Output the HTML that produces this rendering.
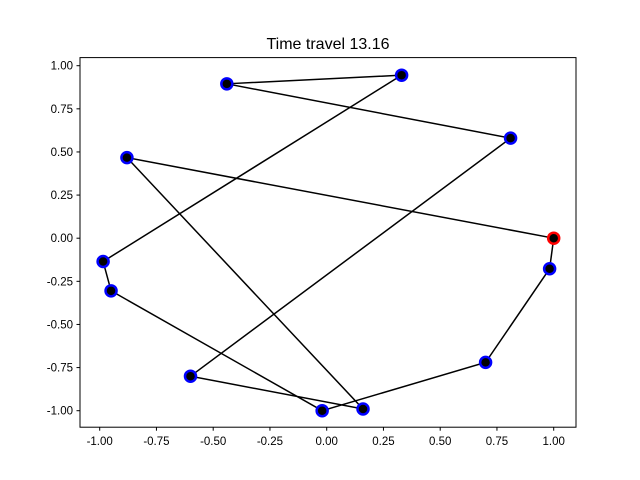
<!DOCTYPE html>
<html><head><meta charset="utf-8"><style>
body{margin:0;background:#fff;}
svg{display:block;font-family:"Liberation Sans","DejaVu Sans",sans-serif;}
</style></head><body>
<svg id="chart" width="640" height="480" viewBox="0 0 640 480">
<rect width="640" height="480" fill="#fff"/>
<text x="328" y="49" text-anchor="middle" font-size="16">Time travel 13.16</text>
<g id="plot"></g>
<rect x="80" y="57.6" width="496" height="369.6" fill="none" stroke="#000" stroke-width="1"/>
</svg>
<script>
const xs = [1.0, 0.982, 0.70, -0.02, -0.95, -0.985, 0.33, -0.44, 0.81, -0.60, 0.16, -0.88];
const ys = [0.0, -0.177, -0.72, -1.0, -0.305, -0.135, 0.945, 0.895, 0.58, -0.80, -0.99, 0.467];
const xTicks = [-1.0, -0.75, -0.5, -0.25, 0.0, 0.25, 0.5, 0.75, 1.0];
const yTicks = [-1.0, -0.75, -0.5, -0.25, 0.0, 0.25, 0.5, 0.75, 1.0];
const NS = "http://www.w3.org/2000/svg";
function sx(v){return 326.7 + v*227;}
function sy(v){return 238.2 - v*172.5;}
const g = document.getElementById('plot');
function mk(t, a){const e=document.createElementNS(NS,t);for(const k in a)e.setAttribute(k,a[k]);g.appendChild(e);return e;}
xTicks.forEach(t=>{
  const l=mk('line',{x1:sx(t),x2:sx(t),y1:427.2,y2:430.7,stroke:'#000'});
  
  
  const tx=mk('text',{x:sx(t),y:445,'text-anchor':'middle','font-size':'11.5'});
  tx.textContent=t.toFixed(2);
  
  
});
yTicks.forEach(t=>{
  const l=mk('line',{x1:76.5,x2:80,y1:sy(t),y2:sy(t),stroke:'#000'});
  
  
  const tx=mk('text',{x:73,y:sy(t)+4,'text-anchor':'end','font-size':'11.5'});
  tx.textContent=t.toFixed(2);
  
  
});
let pts = xs.map((x,i)=>sx(x)+','+sy(ys[i]));
pts.push(pts[0]);
const pl=mk('polyline',{points:pts.join(' '),fill:'none',stroke:'#000','stroke-width':1.5});


xs.forEach((x,i)=>{
  const c=mk('circle',{cx:sx(x),cy:sy(ys[i]),r:5.5,fill:'#000',stroke:i===0?'red':'blue','stroke-width':2.5});
  
  
});
</script>
</body></html>
